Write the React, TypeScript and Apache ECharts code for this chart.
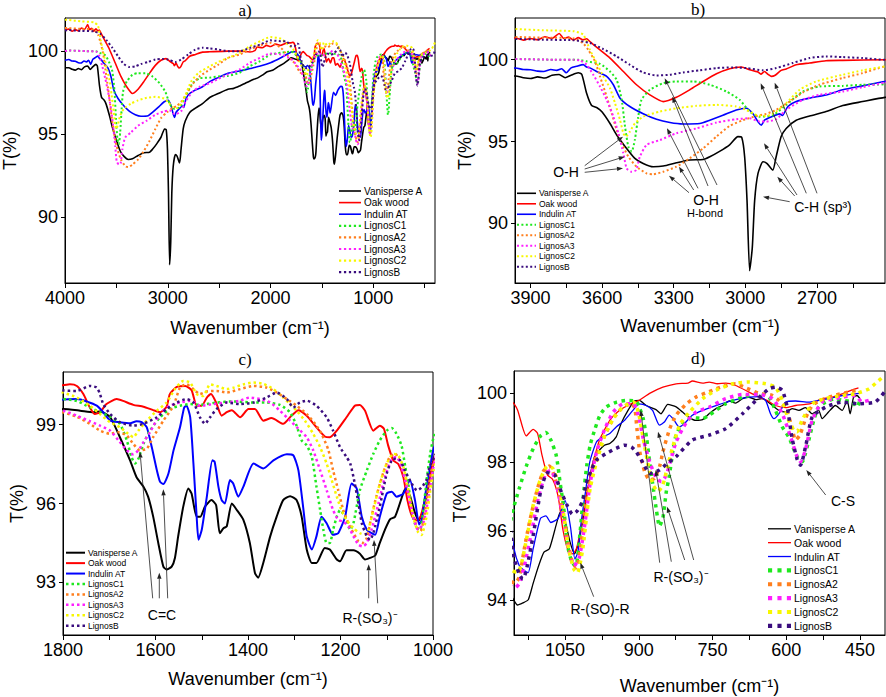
import React, { useEffect, useRef } from 'react';
import * as echarts from 'echarts';

// ---------- spectra: [wavenumber (cm-1), T (%)] ----------
const vanisperseA = [
[4000,99.0],[3963,99.0],[3930,98.9],[3900,98.85],[3870,98.95],[3840,98.88],[3810,99.05],[3780,99.1],[3755,98.9],[3730,99.05],[3700,99.2],[3685,99.1],[3665,97.95],[3644,97.2],[3620,97.05],[3600,96.8],[3567,96.1],[3539,95.4],[3504,94.7],[3463,93.97],[3428,93.66],[3386,93.46],[3344,93.5],[3289,93.7],[3233,93.87],[3177,93.9],[3149,94.07],[3108,94.4],[3066,94.8],[3031,95.3],[3015,95.25],[3003,94.07],[2993,91.4],[2982,87.1],[2971,88.5],[2961,91.4],[2947,93.05],[2926,93.76],[2910,93.66],[2885,93.25],[2871,94.07],[2850,95.3],[2829,95.8],[2787,96.3],[2731,96.56],[2662,96.83],[2592,97.2],[2509,97.44],[2415,97.7],[2358,97.75],[2300,97.9],[2250,98.05],[2200,98.2],[2163,98.3],[2120,98.4],[2080,98.55],[2033,98.75],[1980,98.85],[1930,99.05],[1870,99.26],[1820,99.5],[1800,99.59],[1763,99.53],[1734,99.47],[1720,99.5],[1698,99.28],[1677,98.52],[1655,97.64],[1641,97.0],[1626,96.64],[1616,96.26],[1605,95.5],[1594,94.5],[1583,93.6],[1576,93.49],[1565,93.6],[1558,93.93],[1551,94.75],[1540,95.88],[1529,96.57],[1522,96.38],[1511,95.5],[1503,95.5],[1493,95.88],[1479,96.13],[1469,95.94],[1461,94.87],[1453,95.06],[1446,95.13],[1435,96.0],[1424,95.75],[1410,95.38],[1396,94.5],[1385,93.36],[1378,93.18],[1367,93.74],[1352,94.75],[1338,95.5],[1324,96.13],[1309,96.28],[1295,96.13],[1284,95.5],[1273,94.25],[1262,93.74],[1252,93.74],[1234,94.31],[1223,94.25],[1208,93.87],[1201,93.8],[1187,94.22],[1172,94.22],[1158,94.09],[1147,93.87],[1136,93.93],[1125,94.02],[1115,94.5],[1104,95.0],[1093,95.4],[1082,95.5],[1068,96.2],[1060,96.55],[1050,96.3],[1040,95.7],[1031,95.35],[1022,95.7],[1012,96.5],[1000,97.55],[990,98.17],[980,98.36],[970,98.5],[959,98.55],[946,98.74],[936,99.13],[922,99.51],[909,99.78],[899,99.8],[885,99.65],[865,99.53],[855,99.41],[841,99.68],[824,99.61],[811,99.46],[797,99.3],[784,99.22],[770,99.24],[757,99.41],[743,99.56],[730,99.65],[716,99.78],[703,99.72],[689,99.85],[676,99.89],[662,99.82],[649,99.85],[628,99.65],[615,99.51],[601,99.46],[588,99.56],[574,99.51],[561,99.59],[547,99.41],[534,99.51],[527,99.27],[514,99.46],[500,99.65],[486,99.51],[476,99.8],[470,99.41],[463,99.89],[456,99.94],[450,99.85]
];

const oakWood = [
[4000,101.3],[3963,101.33],[3930,101.2],[3900,101.3],[3870,101.22],[3840,101.4],[3810,101.3],[3780,101.6],[3760,101.3],[3740,101.38],[3720,101.2],[3700,101.35],[3680,101.22],[3665,101.28],[3651,101.1],[3609,100.6],[3567,100.1],[3511,99.28],[3456,98.47],[3400,97.85],[3344,97.44],[3289,97.7],[3233,98.16],[3177,98.67],[3121,99.14],[3066,99.45],[3017,99.55],[2982,99.39],[2960,99.3],[2947,99.25],[2935,99.12],[2920,99.28],[2905,99.1],[2892,98.98],[2875,99.05],[2850,99.35],[2829,99.43],[2787,99.69],[2731,99.8],[2662,99.94],[2592,99.96],[2415,100.0],[2300,100.0],[2200,99.95],[2150,100.05],[2131,100.25],[2080,100.2],[2040,100.35],[2000,100.28],[1950,100.42],[1900,100.35],[1837,100.5],[1800,100.5],[1785,100.53],[1770,100.47],[1756,100.16],[1742,99.65],[1731,99.4],[1720,99.47],[1706,99.78],[1684,99.97],[1670,99.9],[1648,99.75],[1626,99.68],[1605,99.55],[1590,99.47],[1576,99.68],[1569,100.16],[1554,100.43],[1536,100.47],[1522,100.31],[1511,99.72],[1500,99.72],[1489,100.03],[1480,100.16],[1469,99.84],[1457,99.34],[1446,99.47],[1435,99.55],[1417,99.28],[1399,99.59],[1385,99.59],[1367,99.15],[1349,99.25],[1324,99.03],[1306,99.34],[1291,99.55],[1273,99.34],[1252,98.9],[1234,98.55],[1223,98.52],[1208,98.77],[1187,99.28],[1169,99.72],[1158,99.75],[1147,99.53],[1129,98.77],[1115,98.96],[1106,98.84],[1097,98.21],[1086,97.64],[1075,97.5],[1064,97.0],[1055,96.1],[1045,95.5],[1035,95.35],[1027,95.5],[1018,96.1],[1007,97.0],[993,97.97],[980,98.65],[959,99.22],[939,99.51],[919,99.68],[899,99.8],[878,100.0],[851,100.18],[824,100.28],[800,100.3],[791,100.36],[770,100.3],[757,100.33],[740,100.28],[723,100.3],[703,100.23],[676,100.04],[655,99.89],[639,99.8],[622,99.65],[601,99.59],[581,99.65],[561,99.68],[547,99.72],[527,99.85],[507,99.89],[486,99.99],[466,100.1],[453,100.16]
];

const indulinAT = [
[4000,99.45],[3963,99.49],[3930,99.4],[3900,99.39],[3870,99.3],[3845,99.28],[3815,99.4],[3790,99.35],[3770,99.45],[3750,99.2],[3730,99.5],[3707,99.6],[3679,99.7],[3665,99.55],[3651,99.5],[3623,99.28],[3581,98.98],[3553,98.47],[3525,97.65],[3484,97.14],[3428,96.7],[3372,96.36],[3316,96.16],[3261,96.07],[3191,96.1],[3149,96.3],[3094,96.6],[3038,96.93],[2996,97.03],[2968,96.7],[2947,96.2],[2933,96.0],[2920,96.3],[2892,96.5],[2857,96.69],[2845,96.6],[2822,97.14],[2787,97.44],[2731,97.65],[2662,97.85],[2592,98.16],[2509,98.4],[2415,98.67],[2300,98.8],[2200,98.95],[2100,99.1],[2000,99.3],[1900,99.6],[1800,99.95],[1770,99.97],[1749,99.88],[1727,99.72],[1713,99.47],[1698,99.15],[1677,99.09],[1655,99.05],[1641,99.13],[1630,99.09],[1619,98.9],[1608,98.14],[1597,97.26],[1590,96.82],[1583,96.74],[1572,97.14],[1561,98.02],[1547,98.9],[1538,99.65],[1533,99.72],[1525,99.28],[1518,97.52],[1511,95.5],[1507,94.62],[1500,95.0],[1489,96.26],[1477,97.64],[1472,97.58],[1464,96.64],[1457,96.13],[1450,96.0],[1439,96.89],[1432,96.76],[1421,96.26],[1410,96.64],[1388,97.52],[1367,97.33],[1345,97.64],[1316,97.87],[1302,97.83],[1291,97.26],[1280,95.75],[1273,94.75],[1262,94.25],[1252,94.75],[1241,95.5],[1230,95.25],[1216,94.81],[1205,94.87],[1190,95.5],[1176,96.76],[1165,96.57],[1154,95.5],[1143,95.0],[1133,94.87],[1125,94.81],[1115,95.5],[1100,96.38],[1089,96.45],[1079,96.26],[1064,96.38],[1050,96.89],[1039,96.13],[1030,95.2],[1024,95.4],[1017,96.3],[1008,97.2],[1000,98.0],[986,98.6],[973,98.74],[959,98.84],[946,99.03],[929,99.22],[912,99.51],[899,99.7],[885,99.65],[872,99.51],[858,99.08],[848,99.17],[838,99.37],[828,99.22],[818,99.03],[807,99.13],[791,99.37],[770,99.51],[743,99.65],[709,99.8],[676,99.89],[655,99.91],[642,99.8],[632,99.41],[625,99.27],[615,99.41],[601,99.75],[581,99.78],[554,99.75],[534,99.8],[514,99.85],[486,99.94],[459,99.99],[452,100.0]
];

const lignosC1 = [
[4000,100.0],[3963,100.04],[3800,100.0],[3700,100.0],[3665,99.9],[3609,99.75],[3567,99.28],[3539,98.77],[3518,97.55],[3504,95.9],[3490,94.68],[3476,94.38],[3463,95.1],[3449,96.5],[3435,97.55],[3400,98.16],[3344,98.57],[3289,98.67],[3219,98.67],[3149,98.47],[3080,98.06],[3024,97.55],[2982,96.83],[2940,96.52],[2885,96.6],[2829,97.24],[2759,98.06],[2690,98.36],[2592,98.4],[2509,98.47],[2415,98.5],[2300,98.7],[2200,99.1],[2100,99.4],[2000,99.8],[1900,99.9],[1800,99.97],[1770,99.9],[1749,99.72],[1720,99.47],[1698,99.3],[1677,99.03],[1662,98.4],[1652,97.77],[1644,97.52],[1637,97.7],[1626,98.27],[1612,98.77],[1590,99.28],[1569,99.59],[1547,99.72],[1525,99.78],[1504,99.75],[1468,99.84],[1432,99.88],[1388,99.84],[1360,99.84],[1331,99.75],[1309,99.47],[1295,98.96],[1284,98.4],[1273,98.21],[1262,97.77],[1252,96.64],[1244,95.75],[1237,95.0],[1230,94.5],[1223,94.5],[1216,95.0],[1208,95.5],[1201,95.75],[1190,95.5],[1179,95.0],[1172,95.25],[1158,96.51],[1143,97.26],[1129,97.89],[1115,98.4],[1100,98.77],[1089,98.87],[1079,98.65],[1068,98.2],[1060,97.4],[1053,96.7],[1045,95.6],[1036,95.1],[1028,95.0],[1020,95.9],[1013,97.0],[1006,97.9],[999,98.5],[989,98.98],[979,99.37],[966,99.61],[945,99.75],[925,99.8],[905,99.77],[898,99.56],[891,99.27],[884,98.69],[878,98.02],[871,97.3],[864,96.6],[858,96.15],[851,96.39],[844,97.16],[838,97.6],[830,98.4],[824,98.8],[811,99.13],[791,99.3],[770,99.27],[757,99.37],[723,99.7],[689,99.89],[655,99.99],[635,99.89],[622,99.51],[608,99.03],[595,98.74],[584,98.36],[574,98.07],[567,98.02],[561,98.26],[554,98.65],[544,99.22],[534,99.61],[520,99.75],[500,99.85],[486,99.8],[466,99.75],[456,99.61],[450,99.8]
];

const lignosA2 = [
[4000,101.4],[3963,101.39],[3850,101.35],[3719,101.3],[3679,101.0],[3658,100.6],[3630,99.9],[3609,98.98],[3581,97.75],[3560,96.73],[3539,95.7],[3518,94.89],[3490,94.07],[3456,93.46],[3414,93.05],[3386,93.0],[3344,93.15],[3289,93.46],[3233,93.97],[3177,94.58],[3121,95.3],[3066,95.95],[3010,96.3],[2954,96.56],[2913,96.69],[2871,96.93],[2815,97.44],[2759,98.0],[2690,98.47],[2592,98.88],[2509,99.18],[2415,99.59],[2300,99.8],[2200,100.1],[2100,100.35],[2000,100.5],[1900,100.2],[1830,99.7],[1800,99.47],[1770,99.3],[1742,99.03],[1720,98.77],[1698,98.65],[1680,98.71],[1662,98.58],[1648,98.27],[1634,98.02],[1619,98.08],[1605,98.52],[1583,99.15],[1561,99.72],[1547,100.41],[1533,100.53],[1518,100.35],[1504,100.16],[1489,100.26],[1468,100.28],[1446,100.22],[1417,100.35],[1388,100.47],[1360,100.41],[1338,100.22],[1316,99.97],[1295,99.72],[1273,99.4],[1255,99.03],[1241,98.65],[1226,98.02],[1216,97.26],[1205,96.51],[1194,95.75],[1183,95.25],[1172,94.87],[1161,94.56],[1152,94.5],[1143,94.69],[1133,95.5],[1122,96.3],[1107,97.2],[1094,97.75],[1082,97.9],[1074,97.7],[1064,97.2],[1053,96.4],[1043,95.6],[1035,95.1],[1027,94.95],[1018,95.6],[1009,96.7],[999,97.63],[986,98.21],[969,98.79],[952,99.27],[932,99.61],[915,99.7],[908,99.56],[904,99.0],[898,98.31],[888,97.73],[878,97.49],[868,97.54],[857,97.92],[851,98.31],[837,98.98],[824,99.37],[803,99.7],[783,99.9],[757,100.05],[730,100.2],[703,100.28],[680,100.15],[655,100.0],[630,99.95],[615,99.8],[600,99.55],[590,99.1],[581,98.65],[572,98.8],[560,99.3],[547,99.65],[530,99.8],[500,99.95],[470,100.05],[450,100.1]
];

const lignosA3 = [
[4000,100.0],[3963,100.04],[3800,100.0],[3720,100.0],[3693,99.96],[3665,99.7],[3637,99.08],[3609,98.36],[3581,97.55],[3553,96.52],[3532,95.5],[3511,94.27],[3497,93.35],[3476,93.15],[3458,93.25],[3442,94.07],[3414,94.79],[3358,95.09],[3289,95.5],[3205,95.8],[3121,96.16],[3038,96.36],[2982,96.42],[2940,96.22],[2913,96.22],[2871,96.36],[2829,96.93],[2759,97.55],[2690,97.85],[2592,98.06],[2509,98.32],[2415,98.6],[2300,98.9],[2200,99.3],[2100,99.6],[2000,99.85],[1900,99.8],[1800,99.53],[1770,99.34],[1742,99.13],[1720,98.96],[1698,98.77],[1680,98.4],[1662,98.02],[1648,97.87],[1637,98.02],[1626,98.33],[1612,98.71],[1590,99.4],[1569,99.72],[1547,99.84],[1525,99.91],[1504,99.72],[1475,99.78],[1446,99.84],[1417,99.91],[1396,100.03],[1374,99.97],[1352,99.84],[1331,99.53],[1309,99.15],[1291,98.84],[1273,98.52],[1259,98.02],[1244,97.26],[1230,96.51],[1216,95.75],[1205,95.38],[1194,95.31],[1183,95.13],[1172,94.75],[1161,94.43],[1152,94.37],[1143,94.5],[1133,95.0],[1118,96.0],[1104,97.01],[1089,97.7],[1079,97.77],[1068,97.39],[1057,96.64],[1043,95.5],[1032,95.0],[1021,95.25],[1010,96.2],[999,97.4],[986,98.3],[969,98.98],[952,99.46],[932,99.7],[911,99.7],[901,99.37],[891,98.69],[878,98.02],[864,97.54],[854,97.44],[844,97.64],[834,98.12],[824,98.6],[803,99.17],[783,99.46],[757,99.6],[723,99.85],[689,99.97],[655,99.97],[628,99.85],[608,99.41],[591,98.74],[578,98.17],[571,98.02],[561,98.36],[547,99.22],[527,99.75],[486,99.89],[459,99.94],[446,99.75],[432,99.8]
];

const lignosC2 = [
[4000,101.9],[3963,101.88],[3850,101.8],[3719,101.74],[3679,101.53],[3651,100.6],[3623,99.8],[3595,98.98],[3567,98.26],[3546,97.34],[3525,96.32],[3511,95.5],[3500,95.3],[3484,95.6],[3463,96.1],[3428,96.52],[3358,96.83],[3289,97.03],[3205,97.18],[3121,97.24],[3038,97.14],[2996,96.93],[2954,96.63],[2913,96.56],[2871,96.83],[2829,97.34],[2773,98.16],[2704,98.67],[2592,99.08],[2509,99.35],[2415,99.59],[2300,99.9],[2200,100.3],[2100,100.6],[2000,100.85],[1900,100.75],[1800,100.22],[1770,100.03],[1742,99.72],[1720,99.4],[1698,99.09],[1677,98.9],[1659,98.65],[1648,98.52],[1637,98.77],[1619,99.15],[1597,99.53],[1576,99.84],[1558,100.35],[1540,100.66],[1525,100.6],[1511,100.16],[1497,100.09],[1482,100.53],[1468,100.47],[1446,100.35],[1432,100.4],[1410,100.53],[1388,100.6],[1367,100.55],[1345,100.35],[1324,100.03],[1309,99.78],[1295,99.53],[1277,99.15],[1259,98.65],[1244,98.14],[1230,97.52],[1219,96.89],[1208,96.26],[1198,95.75],[1187,95.38],[1172,95.06],[1158,94.87],[1147,94.81],[1140,95.0],[1129,95.75],[1115,96.76],[1100,97.52],[1086,97.89],[1075,97.83],[1064,97.39],[1053,96.51],[1043,95.5],[1032,94.9],[1025,94.8],[1014,95.5],[1005,96.6],[999,97.25],[986,98.02],[969,98.79],[952,99.27],[932,99.61],[911,99.75],[901,99.46],[891,98.69],[881,97.92],[871,97.35],[861,97.16],[851,97.35],[841,97.92],[830,98.5],[817,99.08],[797,99.46],[770,99.85],[743,100.09],[709,100.28],[676,100.33],[642,100.28],[622,100.18],[608,99.8],[595,99.22],[584,98.93],[578,98.89],[568,99.22],[547,99.7],[520,99.85],[486,99.94],[459,99.99],[432,100.13],[412,100.37],[400,100.52]
];

const lignosB = [
[4000,101.25],[3963,101.27],[3850,101.22],[3719,101.19],[3651,101.02],[3595,100.65],[3539,100.2],[3484,99.69],[3428,99.22],[3372,99.04],[3316,99.08],[3261,99.22],[3191,99.35],[3121,99.49],[3052,99.53],[2996,99.49],[2926,99.35],[2871,99.49],[2801,99.8],[2731,100.1],[2662,100.2],[2592,100.16],[2509,100.1],[2415,100.0],[2300,100.0],[2200,100.2],[2100,100.4],[2000,100.65],[1900,100.6],[1850,100.6],[1800,100.3],[1770,100.28],[1742,100.47],[1727,100.41],[1720,100.16],[1713,99.78],[1698,99.4],[1677,99.09],[1648,98.96],[1626,99.03],[1597,99.28],[1576,99.59],[1554,99.84],[1533,99.97],[1518,99.84],[1504,99.28],[1493,99.03],[1482,99.28],[1468,99.59],[1446,99.84],[1417,99.78],[1388,99.84],[1360,100.03],[1338,100.22],[1316,99.97],[1302,99.65],[1288,99.84],[1273,99.91],[1252,99.72],[1230,99.28],[1216,98.77],[1201,98.14],[1187,97.77],[1179,97.52],[1172,97.01],[1161,96.0],[1154,95.25],[1143,94.75],[1136,94.62],[1129,94.87],[1115,95.88],[1100,97.14],[1086,97.7],[1071,97.64],[1061,97.26],[1046,96.76],[1035,96.5],[1025,96.6],[1014,96.9],[1007,97.4],[996,97.8],[986,98.07],[966,98.26],[946,98.41],[929,98.5],[915,98.45],[905,98.3],[890,97.95],[878,97.68],[858,97.78],[840,98.0],[824,98.17],[791,98.65],[757,98.79],[723,98.98],[689,99.41],[655,99.89],[635,100.13],[622,100.18],[608,100.09],[598,99.6],[588,98.7],[578,98.1],[571,97.92],[560,98.5],[547,99.32],[520,99.6],[486,99.75],[453,99.7],[419,99.75],[400,100.04]
];

// ---------- tick values ----------
const aXTicks = [4000, 3500, 3000, 2500, 2000, 1500, 1000, 500];
const aXLabels = [4000, 3000, 2000, 1000];
const aYLabels = [90, 95, 100];
const bXTicks = [3900, 3750, 3600, 3450, 3300, 3150, 3000, 2850, 2700, 2550];
const bXLabels = [3900, 3600, 3300, 3000, 2700];
const bYLabels = [90, 95, 100];
const cXTicks = [1800, 1700, 1600, 1500, 1400, 1300, 1200, 1100, 1000];
const cXLabels = [1800, 1600, 1400, 1200, 1000];
const cYLabels = [93, 96, 99];
const dXTicks = [1125, 1050, 975, 900, 825, 750, 675, 600, 525, 450];
const dXLabels = [1050, 900, 750, 600, 450];
const dYLabels = [94, 96, 98, 100];

const FONT = "Arial, 'Liberation Sans', Helvetica, sans-serif";
const SERIF = "'Times New Roman', 'Liberation Serif', serif";

const SERIES_DEFS = [
  { name: 'Vanisperse A', data: vanisperseA, color: '#000000', dotted: false },
  { name: 'Oak wood', data: oakWood, color: '#ff0000', dotted: false },
  { name: 'Indulin AT', data: indulinAT, color: '#0000ff', dotted: false },
  { name: 'LignosC1', data: lignosC1, color: '#1fe81f', dotted: true },
  { name: 'LignosA2', data: lignosA2, color: '#ff7f1e', dotted: true },
  { name: 'LignosA3', data: lignosA3, color: '#ff1fff', dotted: true },
  { name: 'LignosC2', data: lignosC2, color: '#f7f700', dotted: true },
  { name: 'LignosB', data: lignosB, color: '#3a0d7e', dotted: true },
];

const PANELS = [
  { title: 'a)', tx: 245, ty: 10, grid: { left: 65, top: 18, width: 370, height: 265 }, x: [400, 4000], xTicks: aXTicks, xLabels: aXLabels, y: [86, 102], yLabels: aYLabels, xNameGap: 36, yNameGap: 46, solidW: 1.6, dotW: 2, dash: [2, 2.4], legend: { left: 339, top: 186, w: 22, h: 10, gap: 1.6, fs: 10 } },
  { title: 'b)', tx: 698, ty: 9, grid: { left: 515, top: 18, width: 370, height: 265 }, x: [2415, 3965], xTicks: bXTicks, xLabels: bXLabels, y: [86.35, 102.55], yLabels: bYLabels, xNameGap: 34, yNameGap: 40, solidW: 1.6, dotW: 2, dash: [2, 2.4], legend: { left: 517, top: 188.8, w: 19, h: 9, gap: 1.48, fs: 8.5 } },
  { title: 'c)', tx: 245, ty: 359, grid: { left: 63, top: 372, width: 370, height: 263 }, x: [1000, 1800], xTicks: cXTicks, xLabels: cXLabels, y: [91, 101], yLabels: cYLabels, xNameGap: 35, yNameGap: 37, solidW: 2, dotW: 2.5, dash: [2.5, 3], legend: { left: 66, top: 548.2, w: 19, h: 9, gap: 1.43, fs: 8.5 } },
  { title: 'd)', tx: 698, ty: 358, grid: { left: 514, top: 371, width: 371, height: 264 }, x: [399, 1154], xTicks: dXTicks, xLabels: dXLabels, y: [93, 100.65], yLabels: dYLabels, xNameGap: 42, yNameGap: 45, solidW: 1.3, dotW: 3.5, dash: [3.5, 4.5], legend: { left: 768, top: 523.3, w: 23, h: 10, gap: 2.86, fs: 10.5 } },
];

// ---------- annotations (page pixels) ----------
const TEXTS: [string, number, number, number][] = [
  ['O-H', 566, 172, 14], ['O-H', 706, 200, 14], ['H-bond', 705, 212.5, 11], ['C-H (sp³)', 823, 207, 14],
  ['C=C', 162, 615, 14], ['R-(SO₃)⁻', 370, 618, 14],
  ['R-(SO)-R', 600, 609, 14], ['R-(SO₃)⁻', 681, 577, 14], ['C-S', 843, 501, 14],
];
const ARROWS: [number, number, number, number][] = [
  [584.7, 165.7, 623, 136.7], [584.7, 169, 624.7, 156.7], [584.7, 172.3, 623, 168.3],
  [689, 192.7, 669, 175.7], [693.7, 190, 679, 166.7], [698, 188.3, 667, 128.3], [708, 186, 672.3, 96.7], [717, 185, 664.7, 78.3],
  [789.7, 201.7, 763, 196.7], [794.7, 196, 777.3, 176.7], [797, 195, 764, 143.3], [806.3, 193.3, 760.7, 83.3], [817, 193.3, 774.7, 82.7],
  [152.7, 598.3, 140, 451.7], [159.3, 598.3, 159.3, 572.7], [167.7, 598.3, 163.3, 489.3],
  [368.7, 598.3, 368.7, 564.3], [377.7, 603.3, 374, 540],
  [593.7, 596.7, 580.3, 562.7],
  [659.7, 562.7, 640.7, 410], [671.3, 561.7, 655.7, 470], [684.7, 560, 667, 506.7], [693.7, 560, 658, 431.7],
  [825.7, 495, 806.3, 470],
];

function arrowEls(x1: number, y1: number, x2: number, y2: number) {
  const dx = x2 - x1, dy = y2 - y1, L = Math.hypot(dx, dy);
  const ux = dx / L, uy = dy / L, hl = 6, hw = 2.2;
  const bx = x2 - ux * hl, by = y2 - uy * hl;
  return [
    { type: 'line', z: 100, silent: true, shape: { x1, y1, x2: bx, y2: by }, style: { stroke: '#222', lineWidth: 0.8 } },
    { type: 'polygon', z: 100, silent: true, shape: { points: [[x2, y2], [bx - uy * hw, by + ux * hw], [bx + uy * hw, by - ux * hw]] }, style: { fill: '#222' } },
  ];
}

function textEl(text: string, x: number, y: number, fs: number, family: string) {
  return {
    type: 'text', z: 100, silent: true, x, y,
    style: { text, fontSize: fs, fontFamily: family, fill: '#000', align: 'center', verticalAlign: 'middle', textAlign: 'center', textVerticalAlign: 'middle' },
  };
}

// legend icon: a solid bar or a row of square dots, drawn at 1:1 scale
function legendIconPath(w: number, h: number, dash: number[] | null) {
  if (!dash) return `path://M0,0h${w}v${h}h-${w}z`;
  let d = '';
  for (let x = 0; x < w - 0.5; x += dash[0] + dash[1]) {
    const len = Math.min(dash[0], w - x);
    d += `M${x.toFixed(2)},0h${len.toFixed(2)}v${h}h-${len.toFixed(2)}z`;
  }
  return 'path://' + d;
}

function buildOption() {
  const axisText = { color: '#000', fontFamily: FONT, fontSize: 18 };
  const grid = PANELS.map((p) => ({ ...p.grid, show: true, borderColor: '#000', borderWidth: 1, backgroundColor: 'transparent', containLabel: false, outerBoundsMode: 'none' }));
  const xAxis = PANELS.map((p, i) => ({
    type: 'value', gridIndex: i, inverse: true, min: p.x[0], max: p.x[1],
    name: 'Wavenumber (cm⁻¹)', nameLocation: 'middle', nameGap: p.xNameGap, nameTextStyle: { ...axisText },
    axisLine: { show: true, onZero: false, lineStyle: { color: '#000', width: 1 } },
    axisTick: { show: true, inside: false, length: 5, lineStyle: { color: '#000', width: 1 }, customValues: p.xTicks },
    axisLabel: { show: true, customValues: p.xLabels, formatter: (v: number) => String(v), margin: 6, ...axisText },
    splitLine: { show: false }, minorTick: { show: false },
  }));
  const yAxis = PANELS.map((p, i) => ({
    type: 'value', gridIndex: i, min: p.y[0], max: p.y[1],
    name: 'T(%)', nameLocation: 'middle', nameGap: p.yNameGap, nameTextStyle: { ...axisText },
    axisLine: { show: true, onZero: false, lineStyle: { color: '#000', width: 1 } },
    axisTick: { show: true, inside: false, length: 4, lineStyle: { color: '#000', width: 1 }, customValues: p.yLabels },
    axisLabel: { show: true, customValues: p.yLabels, formatter: (v: number) => String(v), margin: 7, ...axisText },
    splitLine: { show: false },
  }));
  const series: any[] = [];
  PANELS.forEach((p, i) => {
    SERIES_DEFS.forEach((s) => {
      series.push({
        type: 'line', name: s.name, xAxisIndex: i, yAxisIndex: i, data: s.data,
        symbol: 'none', showSymbol: false, smooth: 0.2, silent: true, clip: true,
        emphasis: { disabled: true },
        lineStyle: { color: s.color, width: s.dotted ? p.dotW : p.solidW, type: s.dotted ? p.dash : 'solid', cap: 'butt', join: 'round' },
        itemStyle: { color: s.color },
      });
    });
  });
  const legend = PANELS.map((p) => ({
    orient: 'vertical', left: p.legend.left, top: p.legend.top, padding: 0,
    itemWidth: p.legend.w, itemHeight: p.legend.h, itemGap: p.legend.gap, selectedMode: false,
    symbolKeepAspect: true,
    textStyle: { fontSize: p.legend.fs, lineHeight: p.legend.h, color: '#000', fontFamily: FONT, padding: [0, 0, 0, -2] },
    data: SERIES_DEFS.map((s) => ({
      name: s.name,
      icon: legendIconPath(p.legend.w, s.dotted ? p.dotW : p.solidW, s.dotted ? p.dash : null),
      itemStyle: { color: s.color, borderWidth: 0, borderColor: s.color },
    })),
  }));
  const elements: any[] = [];
  PANELS.forEach((p) => elements.push(textEl(p.title, p.tx, p.ty, 17, SERIF)));
  TEXTS.forEach(([t, x, y, fs]) => elements.push(textEl(t, x, y, fs, FONT)));
  ARROWS.forEach(([x1, y1, x2, y2]) => elements.push(...arrowEls(x1, y1, x2, y2)));
  return {
    animation: false,
    backgroundColor: '#ffffff',
    textStyle: { fontFamily: FONT },
    grid, xAxis, yAxis, series, legend,
    graphic: { elements },
  };
}

export default function App() {
  const ref = useRef<HTMLDivElement | null>(null);
  useEffect(() => {
    if (!ref.current) return;
    const chart = echarts.init(ref.current, null, { renderer: 'svg' });
    chart.setOption(buildOption() as any);
    return () => chart.dispose();
  }, []);
  return <div ref={ref} style={{ position: 'absolute', left: 0, top: 0, width: 886, height: 697, background: '#fff' }} />;
}
